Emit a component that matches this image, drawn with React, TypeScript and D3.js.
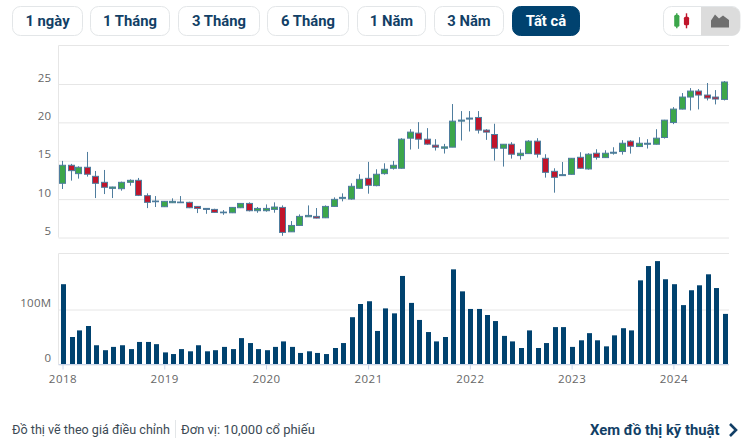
import * as d3 from 'd3';
import { useEffect, useRef } from 'react';

const WIDTH = 753;
const HEIGHT = 441;

const rangeLabels = ['1 ngày', '1 Tháng', '3 Tháng', '6 Tháng', '1 Năm', '3 Năm', 'Tất cả'];
const rangeEdges: [number, number][] = [[12, 82], [90, 169], [178, 259], [267, 348], [357, 425], [434, 503], [512, 579]];

const priceTicks = [5, 10, 15, 20, 25];
const volumeTicks = [0, 100];
const yearTicks = [2018, 2019, 2020, 2021, 2022, 2023, 2024];

// one entry per month, Jan 2018 .. Jul 2024, price in thousand dong
const open = [
  12.06, 14.41, 13.32, 14.15, 12.97, 12.19, 11.4, 11.36, 12.19, 12.45, 10.45, 9.75,
  9.01, 9.53, 9.53, 9.58, 9.05, 8.79, 8.66, 8.31, 8.22, 8.88, 9.44, 8.49,
  8.49, 8.66, 8.92, 5.74, 6.57, 7.7, 7.75, 7.57, 9.05, 10.1, 10.01, 11.41,
  12.71, 11.76, 13.32, 14.02, 14.02, 17.94, 18.6, 17.81, 17.03, 16.63, 16.77, 20.16,
  20.43, 20.64, 18.99, 18.42, 16.63, 17.15, 15.67, 15.93, 17.55, 15.32, 13.62, 13.06,
  13.23, 15.45, 13.93, 15.98, 15.41, 15.98, 16.2, 17.55, 16.85, 17.15, 17.15, 18.03,
  19.99, 21.73, 23.3, 24.08, 23.56, 23.3, 22.99,
];
const high = [
  14.98, 14.59, 14.28, 16.15, 13.67, 13.8, 11.62, 12.28, 12.58, 12.76, 10.75, 10.4,
  9.75, 10.1, 10.4, 9.66, 9.1, 8.83, 8.75, 8.57, 8.97, 9.49, 9.58, 8.97,
  9.31, 9.58, 9.18, 7.14, 8.01, 9.18, 8.84, 9.18, 10.23, 10.75, 12.06, 13.24,
  14.85, 13.89, 14.67, 14.98, 17.94, 19.12, 20.03, 19.25, 17.81, 17.2, 22.39, 21.47,
  21.47, 21.47, 19.12, 19.82, 17.16, 17.42, 16.5, 17.68, 17.94, 15.85, 14.02, 14.84,
  15.32, 16.11, 15.98, 16.5, 16.37, 16.76, 17.68, 17.68, 18.07, 17.81, 19.11, 20.33,
  21.99, 23.82, 24.47, 24.34, 25.13, 24.21, 25.39,
];
const low = [
  11.32, 12.41, 12.67, 12.93, 10.14, 10.66, 10.14, 11.1, 11.75, 10.4, 8.83, 8.97,
  8.97, 9.49, 9.49, 8.83, 8.18, 8.09, 8.22, 7.96, 8.18, 8.83, 8.4, 8.22,
  8.36, 8.23, 5.22, 5.74, 6.53, 7.7, 7.49, 7.53, 9.01, 9.71, 9.93, 11.36,
  10.71, 11.67, 13.19, 13.85, 13.98, 16.46, 16.55, 17.07, 16.33, 15.94, 16.77, 17.64,
  18.81, 18.55, 17.72, 15.02, 14.24, 15.28, 15.15, 15.93, 15.41, 12.8, 10.84, 13.02,
  13.19, 13.97, 13.84, 15.15, 15.37, 15.8, 15.8, 15.93, 16.81, 16.59, 17.11, 17.89,
  19.77, 21.69, 21.55, 21.69, 22.86, 22.34, 22.86,
];
const close = [
  14.41, 13.71, 14.15, 13.24, 12.06, 11.54, 11.58, 12.19, 12.45, 10.49, 9.58, 9.66,
  9.71, 9.71, 9.62, 8.88, 8.79, 8.66, 8.27, 8.22, 8.92, 9.44, 8.49, 8.79,
  8.79, 8.97, 5.66, 6.57, 7.75, 7.88, 7.53, 9.05, 9.97, 10.23, 11.67, 12.58,
  11.8, 13.24, 13.89, 14.41, 17.81, 18.73, 17.81, 17.16, 16.77, 16.81, 20.16, 20.3,
  20.56, 18.99, 18.73, 16.63, 17.15, 15.85, 15.98, 17.55, 15.85, 13.49, 12.84, 13.19,
  15.32, 14.02, 15.85, 15.45, 15.98, 16.11, 17.28, 16.89, 17.28, 17.28, 17.94, 20.29,
  21.73, 23.3, 24.08, 23.56, 23.17, 23.04, 25.26,
];
// millions of shares
const volume = [
  146, 50, 62, 70, 35, 26, 32, 35, 28, 41, 41, 37,
  22, 19, 28, 24, 35, 24, 26, 32, 28, 48, 39, 28,
  26, 32, 42, 32, 21, 24, 21, 19, 30, 39, 86, 110,
  115, 61, 102, 93, 161, 112, 81, 59, 42, 50, 173, 133,
  101, 101, 90, 79, 52, 42, 30, 62, 30, 39, 68, 68,
  32, 44, 57, 44, 33, 53, 66, 62, 153, 179, 188, 155,
  146, 108, 135, 144, 164, 139, 92,
];

const months = volume.map((_, i) => new Date(Date.UTC(2018, i, 1)));

const NAVY = '#00426f';
const GRID = '#e6e6e6';
const AXIS = '#ccd6eb';
const CANDLE_EDGE = '#4f7d9e';
const UP = '#3ca64a';
const DOWN = '#c0152b';
const LABEL = '#666666';
const AXIS_FONT = '"Open Sans", sans-serif';
const UI_FONT = 'Roboto, sans-serif';

const App = () => {
  const svgRef = useRef<SVGSVGElement>(null);

  useEffect(() => {
    if (!svgRef.current) {
      return;
    }
    const svg = d3.select(svgRef.current);
    svg.selectAll('*').remove();

    const left = 58.5;
    const right = 729;

    const x = d3
      .scaleUtc()
      .domain([new Date(Date.UTC(2018, 0, 1)), new Date(Date.UTC(2024, 0, 1))])
      .range([62.5, 673.4]);
    const yPrice = d3.scaleLinear().domain([5, 25]).range([237.5, 84]);
    const yVolume = d3.scaleLinear().domain([0, 100]).range([364.5, 309.5]);

    // Range buttons
    const buttons = svg.append('g');
    rangeLabels.forEach((label, i) => {
      const [x0, x1] = rangeEdges[i];
      const active = i === rangeLabels.length - 1;
      buttons
        .append('rect')
        .attr('x', x0 + 0.5)
        .attr('y', 6.5)
        .attr('width', x1 - x0)
        .attr('height', 29)
        .attr('rx', 8)
        .attr('fill', active ? NAVY : '#fff')
        .attr('stroke', active ? NAVY : '#e3e6e8');
      buttons
        .append('text')
        .attr('x', (x0 + x1) / 2 + 0.5)
        .attr('y', 26)
        .attr('text-anchor', 'middle')
        .attr('font-family', UI_FONT)
        .attr('font-size', 14.8)
        .attr('font-weight', 700)
        .attr('fill', active ? '#fff' : '#123f66')
        .text(label);
    });

    // Chart type toggle
    const toggle = svg.append('g');
    toggle
      .append('rect')
      .attr('x', 663.5)
      .attr('y', 6.5)
      .attr('width', 76.5)
      .attr('height', 29)
      .attr('rx', 8)
      .attr('fill', '#fff')
      .attr('stroke', '#e3e6e8');
    toggle
      .append('path')
      .attr('d', 'M701 7H732a8 8 0 0 1 8 8V27.5a8 8 0 0 1 -8 8H701Z')
      .attr('fill', '#dcdcdc');
    [
      { cx: 676.8, color: '#3ca64a', y0: 14.7, y1: 26.7 },
      { cx: 686.5, color: '#c0152b', y0: 16.7, y1: 25.3 },
    ].forEach((c) => {
      toggle
        .append('line')
        .attr('x1', c.cx)
        .attr('x2', c.cx)
        .attr('y1', 13.3)
        .attr('y2', 28.3)
        .attr('stroke', c.color)
        .attr('stroke-width', 1.4);
      toggle
        .append('rect')
        .attr('x', c.cx - 2.6)
        .attr('y', c.y0)
        .attr('width', 5.2)
        .attr('height', c.y1 - c.y0)
        .attr('rx', 1.5)
        .attr('fill', c.color);
    });
    toggle
      .append('path')
      .attr('d', 'M711 27.5V20.5L715 14.5L719 18.5L723 15.5L729 20V27.5Z')
      .attr('fill', '#6f6f6f');

    // Price panel frame and grid
    const pricePanel = svg.append('g');
    pricePanel
      .append('g')
      .attr('transform', `translate(${left},0)`)
      .call(
        d3
          .axisLeft(yPrice)
          .tickValues(priceTicks)
          .tickSize(-(right - left))
          .tickPadding(7)
          .tickFormat((d) => String(d)),
      )
      .call((g) => g.select('.domain').remove())
      .call((g) => g.selectAll('.tick line').attr('stroke', GRID))
      .call((g) =>
        g
          .selectAll('.tick text')
          .attr('fill', LABEL)
          .attr('font-size', 11.5)
          .attr('font-family', AXIS_FONT)
          .attr('letter-spacing', 0.3)
          .attr('dy', -3),
      );
    pricePanel
      .append('path')
      .attr('d', `M${left} 237.5V45.5H${right}`)
      .attr('fill', 'none')
      .attr('stroke', GRID);

    // Candles: wicks first, bodies on top
    const candles = pricePanel
      .selectAll('.candle')
      .data(months)
      .join('g')
      .attr('class', 'candle')
      .attr('transform', (d) => `translate(${Math.floor(x(d)) + 0.5},0)`);
    candles
      .append('line')
      .attr('y1', (_, i) => yPrice(high[i]))
      .attr('y2', (_, i) => yPrice(low[i]))
      .attr('stroke', CANDLE_EDGE)
      .attr('stroke-width', 1);
    candles
      .append('rect')
      .attr('x', -3)
      .attr('width', 6)
      .attr('y', (_, i) => yPrice(Math.max(open[i], close[i])))
      .attr('height', (_, i) => Math.abs(yPrice(open[i]) - yPrice(close[i])))
      .attr('fill', (_, i) => (close[i] >= open[i] ? UP : DOWN))
      .attr('stroke', CANDLE_EDGE)
      .attr('stroke-width', 1);

    // Volume panel
    const volumePanel = svg.append('g');
    volumePanel
      .append('g')
      .attr('transform', `translate(${left},0)`)
      .call(
        d3
          .axisLeft(yVolume)
          .tickValues(volumeTicks)
          .tickSize(-(right - left))
          .tickPadding(7)
          .tickFormat((d) => (d === 0 ? '0' : `${d}M`)),
      )
      .call((g) => g.select('.domain').remove())
      .call((g) => g.selectAll('.tick line').attr('stroke', GRID))
      .call((g) =>
        g
          .selectAll('.tick text')
          .attr('fill', LABEL)
          .attr('font-size', 11.5)
          .attr('font-family', AXIS_FONT)
          .attr('letter-spacing', 0.3)
          .attr('dy', -3),
      );
    volumePanel
      .append('path')
      .attr('d', `M${left} 364.5V253.5H${right}`)
      .attr('fill', 'none')
      .attr('stroke', GRID);
    volumePanel
      .selectAll('.bar')
      .data(volume)
      .join('rect')
      .attr('class', 'bar')
      .attr('x', (_, i) => Math.floor(x(months[i])) - 1)
      .attr('width', 5)
      .attr('y', (d) => yVolume(d))
      .attr('height', (d) => yVolume(0) - yVolume(d))
      .attr('fill', NAVY);

    // Time axis
    volumePanel
      .append('g')
      .attr('transform', 'translate(0,364.5)')
      .call(
        d3
          .axisBottom(x)
          .tickValues(yearTicks.map((y) => new Date(Date.UTC(y, 0, 1))))
          .tickSize(5)
          .tickPadding(5)
          .tickFormat((d) => String((d as Date).getUTCFullYear())),
      )
      .call((g) =>
        g.select('.domain').attr('stroke', AXIS).attr('d', `M${left} 0H${right}`),
      )
      .call((g) => g.selectAll('.tick line').attr('stroke', AXIS))
      .call((g) =>
        g
          .selectAll('.tick text')
          .attr('fill', LABEL)
          .attr('font-size', 11.5)
          .attr('font-family', AXIS_FONT)
          .attr('letter-spacing', 0.5),
      );

    // Footer
    const footer = svg.append('g').attr('font-family', UI_FONT);
    footer
      .append('text')
      .attr('x', 12)
      .attr('y', 434)
      .attr('font-size', 12.6)
      .attr('fill', '#3c4a55')
      .text('Đồ thị vẽ theo giá điều chỉnh');
    footer
      .append('line')
      .attr('x1', 175.5)
      .attr('x2', 175.5)
      .attr('y1', 420)
      .attr('y2', 438)
      .attr('stroke', '#e3e6e8');
    footer
      .append('text')
      .attr('x', 181)
      .attr('y', 434)
      .attr('font-size', 13)
      .attr('fill', '#3c4a55')
      .text('Đơn vị: 10,000 cổ phiếu');
    footer
      .append('text')
      .attr('x', 590)
      .attr('y', 435)
      .attr('font-size', 14.8)
      .attr('font-weight', 700)
      .attr('fill', '#123f66')
      .text('Xem đồ thị kỹ thuật');
    footer
      .append('path')
      .attr('d', 'M730 424L736 430L730 436')
      .attr('fill', 'none')
      .attr('stroke', '#123f66')
      .attr('stroke-width', 2.6);
  }, []);

  return (
    <svg
      ref={svgRef}
      width={WIDTH}
      height={HEIGHT}
      style={{ position: 'absolute', left: 0, top: 0 }}
    />
  );
};

export default App;
